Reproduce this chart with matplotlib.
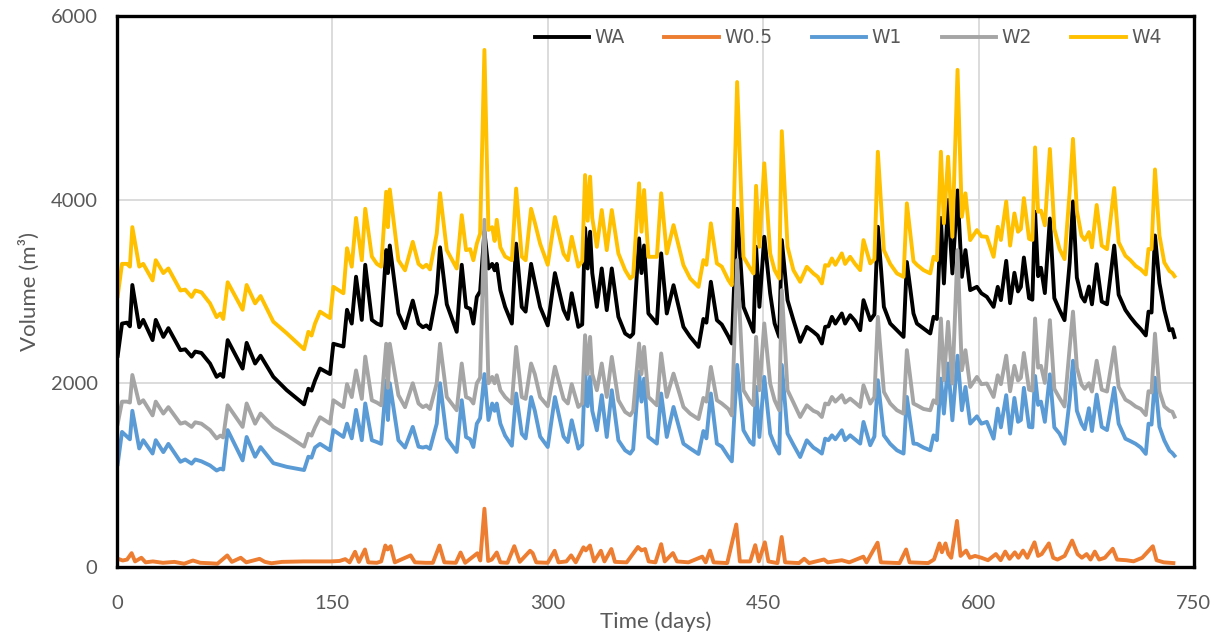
import matplotlib
matplotlib.use('Agg')
import matplotlib.pyplot as plt

# sampling days shared by the four upper curves
days = [
    0.5, 3.5, 7, 9, 10.7, 15.5, 18.3, 24.8, 27, 32.3, 35.8, 44.2, 47.5, 52, 54.5, 58.8,
    64.8, 69.4, 72, 74, 77.1, 87.5, 90.3, 96.2, 100, 108.9, 118.2, 130.3, 133.3, 135.5,
    137.9, 141.4, 148.4, 150.7, 157.7, 160.2, 163.5, 166.5, 170.5, 172.9, 177.5, 181, 184,
    187.5, 188.7, 190, 196, 200.6, 206, 210, 213, 215.5, 218, 222.7, 225, 229.7, 236.6,
    240.1, 243.1, 246, 248.2, 250.6, 252.9, 255.9, 258.7, 261.3, 263, 264.5, 267, 270.3,
    275, 278, 281.9, 284.6, 288.4, 291, 294.7, 300, 305, 311, 314, 316.7, 321.3, 324, 326,
    327.8, 329.5, 331, 334.2, 337.6, 341.1, 344.6, 349.2, 353.9, 357.4, 359.5, 363.6,
    365.3, 367.1, 370.1, 376, 379, 382.9, 387.6, 394.5, 399.2, 405, 408.4, 410.5, 413.6,
    417.8, 421.2, 425.8, 428.2, 431.9, 436.3, 441, 443.3, 445.1, 447.4, 450.8, 454.9, 458,
    461.2, 463, 467, 471.1, 475.8, 480.4, 485, 488, 490.9, 493.2, 495.5, 497.9, 500.3,
    504.8, 507.1, 510.6, 514, 517.6, 519.9, 524.6, 527.5, 529.9, 534.1, 538.5, 543.2,
    547.8, 550.1, 554.7, 557.1, 561.7, 566.4, 568.7, 571, 573.8, 575.9, 578.8, 581.8,
    585.4, 588.4, 590.9, 594.2, 598.9, 602, 605.8, 610.5, 613.4, 615.6, 619.3, 622, 625,
    627.5, 629.5, 631.6, 635.2, 637.5, 639.4, 641.5, 643.5, 646.2, 649.7, 652.8, 656.4,
    659.9, 663.5, 665.8, 668.5, 671.7, 674, 676.9, 679, 682.3, 685.8, 689.5, 694.5, 697.6,
    702.3, 705.8, 709.4, 713, 716.5, 718.4, 720.5, 722.9, 726, 729.4, 733, 735, 736.5,
]

w4 = [
    2950, 3300, 3300, 3270, 3700, 3270, 3300, 3120, 3340, 3200, 3250, 3010, 3020, 2940, 3010, 2990,
    2870, 2720, 2760, 2700, 3100, 2800, 3070, 2870, 2950, 2670, 2545, 2370, 2560, 2520,
    2650, 2780, 2710, 3050, 2980, 3470, 3270, 3800, 3340, 3900, 3380, 3300, 3270,
    4085, 3700, 4110, 3340, 3230, 3540, 3300, 3260, 3290, 3240, 3630, 4070, 3450, 3250,
    3830, 3450, 3460, 3340, 3520, 3630, 5630, 3670, 3700, 3550, 3780, 3480, 3380,
    3340, 4120, 3380, 3340, 3900, 3750, 3520, 3290, 3810, 3410, 3340, 3595, 3270, 3330, 4267,
    3770, 4250, 3800, 3486, 3886, 3450, 3886, 3414, 3232, 3141, 3170, 4177,
    3650, 4104, 3377, 3377, 4068, 3414, 3722, 3286, 3141, 3050, 3341, 3290, 3741,
    3305, 3270, 3123, 3068, 5280, 3377, 3250, 3196, 4150, 3486, 4395, 3414, 3232,
    3141, 4745, 3486, 3232, 3105, 3268, 3196, 3160, 3087, 3286, 3280, 3359, 3290,
    3414, 3300, 3377, 3300, 3232, 3559, 3305, 3350, 4521, 3450, 3300, 3196,
    3159, 3959, 3330, 3290, 3232, 3196, 3377, 3340, 4521, 3741, 4467, 3595,
    5413, 3813, 4068, 3559, 3668, 3600, 3595, 3377, 3704, 3560, 3979, 3499, 3849,
    3650, 3680, 4016, 3573, 3560, 4568, 3867, 3880, 3720, 4551, 3683, 3462,
    3352, 4089, 4661, 3880, 3609, 3560, 3646, 3480, 3941, 3499, 3460, 4126, 3536,
    3388, 3340, 3278, 3240, 3185, 3462, 3460, 4328, 3609, 3315, 3222, 3200, 3166,
]

wa = [
    2300, 2650, 2660, 2620, 3070, 2610, 2690, 2470, 2690, 2505, 2600, 2360, 2370, 2290, 2345, 2330,
    2215, 2070, 2100, 2070, 2470, 2160, 2440, 2215, 2300, 2070, 1925, 1770, 1940, 1920,
    2030, 2160, 2100, 2430, 2400, 2800, 2650, 3160, 2690, 3290, 2690, 2650, 2630,
    3450, 3200, 3500, 2760, 2600, 2900, 2650, 2610, 2630, 2590, 2980, 3480, 2860, 2560,
    3290, 2830, 2810, 2650, 2940, 3000, 3650, 3250, 3300, 3230, 3300, 3014, 2832,
    2650, 3520, 2830, 2780, 3300, 3100, 2830, 2630, 3200, 2800, 2700, 2980, 2614, 2640, 3690,
    3250, 3650, 3200, 2832, 3250, 2796, 3250, 2724, 2542, 2505, 2540, 3577,
    3200, 3500, 2760, 2651, 3414, 2760, 3068, 2614, 2505, 2396, 2700, 2660, 3105,
    2687, 2640, 2510, 2433, 3900, 2832, 2650, 2560, 3486, 2832, 3595, 2978, 2651,
    2505, 3559, 2905, 2687, 2451, 2614, 2560, 2520, 2433, 2614, 2620, 2723, 2650,
    2760, 2650, 2741, 2680, 2578, 2905, 2687, 2750, 3704, 2832, 2651, 2578,
    2505, 3320, 2760, 2650, 2596, 2542, 2724, 2700, 3800, 3087, 3995, 3196,
    4100, 3159, 3450, 3014, 3050, 2980, 2941, 2832, 3050, 2905, 3333, 2872, 3203,
    3000, 3050, 3369, 2927, 2910, 3867, 3166, 3258, 2982, 3794, 2927, 2798,
    2687, 3315, 3979, 3150, 2945, 2890, 3054, 2860, 3296, 2890, 2860, 3499, 2964,
    2798, 2720, 2650, 2590, 2521, 2780, 2770, 3609, 3093, 2798, 2577, 2590, 2503,
]

w2 = [
    1560, 1800, 1800, 1790, 2090, 1780, 1815, 1650, 1800, 1670, 1740, 1560, 1575, 1525, 1575, 1560,
    1490, 1400, 1430, 1410, 1760, 1525, 1780, 1560, 1670, 1525, 1435, 1310, 1450, 1430,
    1520, 1630, 1560, 1815, 1740, 1990, 1850, 2140, 1830, 2290, 1815, 1790, 1760,
    2430, 1950, 2430, 1870, 1740, 2000, 1780, 1740, 1760, 1720, 2000, 2430, 1850, 1706,
    2215, 1850, 1830, 1780, 2000, 2060, 3780, 2000, 2069, 2000, 2087, 1924, 1850,
    1780, 2396, 1850, 1830, 2215, 2100, 1850, 1750, 2180, 1830, 1780, 1990, 1742, 1780, 2523,
    2100, 2505, 2100, 1924, 2215, 1851, 2287, 1815, 1688, 1651, 1700, 2433,
    2100, 2396, 1851, 1760, 2324, 1851, 2105, 1742, 1669, 1610, 1840, 1800, 2178,
    1815, 1780, 1720, 1650, 3341, 1924, 1800, 1760, 2505, 1924, 2651, 1997, 1815,
    1706, 3014, 1924, 1790, 1633, 1760, 1700, 1680, 1633, 1779, 1770, 1851, 1800,
    1870, 1790, 1833, 1790, 1742, 1978, 1779, 1850, 2723, 1906, 1780, 1706,
    1669, 2360, 1779, 1760, 1720, 1706, 1815, 1780, 2705, 2033, 2669, 1997,
    3450, 2142, 2360, 1960, 2069, 1990, 1997, 1851, 2087, 1990, 2300, 1913, 2190,
    2030, 2060, 2330, 1930, 1920, 2705, 2170, 2190, 2004, 2687, 1940, 1839,
    1747, 2390, 2780, 2170, 1986, 1940, 2000, 1910, 2245, 1930, 1910, 2392, 1960,
    1822, 1790, 1747, 1720, 1654, 1913, 1900, 2540, 1913, 1747, 1700, 1690, 1636,
]

w1 = [
    1120, 1470, 1420, 1390, 1700, 1290, 1380, 1235, 1380, 1250, 1340, 1145, 1170, 1125, 1170, 1150,
    1105, 1050, 1070, 1060, 1490, 1160, 1415, 1200, 1305, 1130, 1090, 1055, 1200, 1190,
    1300, 1340, 1270, 1490, 1415, 1560, 1400, 1710, 1380, 1780, 1380, 1360, 1340,
    2030, 1600, 2000, 1380, 1300, 1525, 1310, 1300, 1310, 1285, 1560, 2000, 1400, 1252,
    1815, 1415, 1390, 1306, 1560, 1620, 2100, 1600, 1779, 1700, 1779, 1560, 1430,
    1320, 1888, 1450, 1400, 1850, 1700, 1420, 1306, 1850, 1420, 1360, 1597, 1288, 1330, 2142,
    1750, 2069, 1700, 1488, 1870, 1415, 1924, 1379, 1270, 1234, 1280, 2124,
    1800, 2050, 1415, 1343, 1888, 1415, 1742, 1342, 1290, 1230, 1480, 1400, 1888,
    1342, 1310, 1200, 1150, 2200, 1488, 1360, 1330, 1960, 1415, 2069, 1450, 1330,
    1234, 2200, 1452, 1330, 1197, 1379, 1300, 1270, 1234, 1397, 1380, 1433, 1390,
    1488, 1380, 1433, 1390, 1343, 1579, 1325, 1420, 2033, 1433, 1340, 1270,
    1234, 1851, 1343, 1340, 1300, 1270, 1433, 1380, 2050, 1670, 2215, 1597,
    2300, 1706, 1960, 1561, 1640, 1560, 1580, 1397, 1724, 1520, 1870, 1452, 1840,
    1580, 1600, 1950, 1525, 1520, 2079, 1765, 1800, 1580, 2097, 1520, 1452,
    1341, 1820, 2245, 1700, 1560, 1500, 1728, 1480, 1876, 1525, 1490, 1950, 1560,
    1396, 1370, 1341, 1300, 1231, 1560, 1550, 2060, 1525, 1377, 1267, 1240, 1211,
]

# W0.5 is sampled on its own days
days_half = [
    0.5, 4, 7, 10.2, 12.6, 17, 19.9, 25, 32, 40, 46.8, 52.9, 58, 65, 70, 76.8, 80, 86.2, 90,
    99.3, 103, 107.6, 115, 130, 149, 155, 159, 162, 165.8, 168.5, 172.7, 175, 181, 184,
    186.9, 188.5, 190.6, 193.5, 204.5, 207.5, 215, 220, 224.6, 228, 236, 239.3, 242.5, 251,
    253, 255.9, 258.5, 261, 264.5, 267, 272, 276.7, 280.5, 287.7, 289.5, 292, 300, 304.8,
    307.5, 313, 316.3, 319.5, 324.9, 326.5, 329.4, 332.3, 337, 339.5, 344.3, 346.8, 355,
    362.8, 365.3, 367.8, 370.3, 375, 379, 381.5, 387.2, 390, 398, 407.6, 410, 413, 415.5,
    425, 431.3, 433.8, 441, 444.5, 447, 451.2, 453.7, 460, 462.9, 465.3, 475, 478.6, 482,
    492.4, 495, 504.8, 510, 519.8, 522, 529.7, 532, 545, 549.6, 552, 565, 569, 572.8, 574.5,
    577, 579, 581, 585, 587.5, 591.4, 594, 597.6, 602, 606.6, 612.1, 615.4, 618.6, 621.6,
    625.3, 627.8, 631, 634, 639, 641.5, 644, 649, 652, 655, 660, 665.2, 669, 672, 675.3,
    678, 681, 684, 688, 693.5, 696.5, 703, 708, 714, 721.4, 724, 729, 735.7,
]

w05 = [
    90, 70, 80, 150, 60, 100, 50, 60, 45, 55, 35, 70, 45, 40, 35, 125, 55, 100, 50,
    88, 55, 40, 55, 60, 60, 65, 85, 50, 165, 55, 190, 50, 45, 60,
    233, 190, 226, 50, 126, 50, 45, 45, 233, 50, 45, 157, 45, 149,
    70, 634, 65, 80, 157, 50, 45, 226, 55, 176, 150, 50, 45, 176,
    50, 60, 126, 50, 214, 180, 233, 60, 176, 60, 195, 55, 50,
    217, 180, 195, 60, 50, 248, 60, 151, 60, 50, 112, 50, 178, 50,
    42, 462, 60, 60, 237, 60, 268, 60, 42, 326, 50, 42, 89, 42,
    81, 50, 73, 50, 112, 50, 264, 50, 42, 190, 50, 42, 81, 256, 160,
    256, 140, 100, 501, 120, 178, 100, 120, 100, 73, 140, 73, 167, 88,
    159, 100, 178, 100, 268, 120, 140, 256, 100, 80, 120, 287, 140, 100, 140,
    80, 167, 80, 100, 198, 80, 73, 61, 100, 225, 73, 50, 42,
]

x_ticks = [0, 150, 300, 450, 600, 750]
y_ticks = [0, 2000, 4000, 6000]

text_grey = '#595959'
plt.rcParams['font.family'] = ['Lato', 'DejaVu Sans']

fig = plt.figure(figsize=(12.21, 6.37), dpi=100)
ax = fig.add_axes([0.0958, 0.110, 0.882, 0.865])

lw = 2.8
ax.plot(days, wa, color='#000000', lw=lw, label='WA', solid_joinstyle='round')
ax.plot(days_half, w05, color='#ED7D31', lw=lw, label='W0.5', solid_joinstyle='round')
ax.plot(days, w1, color='#5B9BD5', lw=lw, label='W1', solid_joinstyle='round')
ax.plot(days, w2, color='#A5A5A5', lw=lw, label='W2', solid_joinstyle='round')
ax.plot(days, w4, color='#FFC000', lw=lw, label='W4', solid_joinstyle='round')

ax.set_xlim(0, 750)
ax.set_ylim(0, 6000)
ax.set_xticks(x_ticks)
ax.set_yticks(y_ticks)
ax.grid(True, color='#D9D9D9', lw=1.3)
ax.set_axisbelow(True)
ax.tick_params(length=0, labelsize=14.5, labelcolor=text_grey)
ax.tick_params(axis='x', pad=20)
ax.tick_params(axis='y', pad=14)

for side in ax.spines.values():
    side.set_color('black')
    side.set_linewidth(2.4)

ax.set_xlabel('Time (days)', fontsize=16, color=text_grey, labelpad=0)
ax.set_ylabel('Volume (m³)', fontsize=16, color=text_grey, labelpad=8)

ax.legend(loc='center', bbox_to_anchor=(0.679, 0.96), ncol=5, frameon=False,
          handlelength=2.9, handletextpad=0.3, columnspacing=2.1,
          prop={'family': ['Liberation Sans Narrow', 'DejaVu Sans'], 'size': 13.5},
          labelcolor=text_grey)

fig.savefig('out.png', dpi=100)
